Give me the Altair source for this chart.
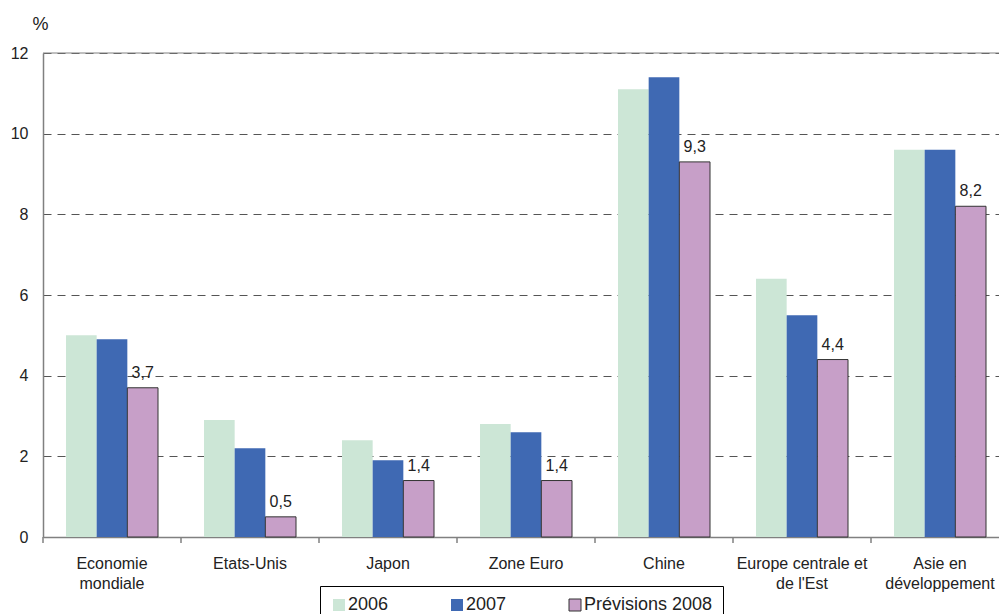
import altair as alt
import pandas as pd

# Growth rates (%) by region, with 2008 forecasts
categories = [
    "Economie|mondiale",
    "Etats-Unis",
    "Japon",
    "Zone Euro",
    "Chine",
    "Europe centrale et|de l'Est",
    "Asie en|développement",
]
series = ["2006", "2007", "Prévisions 2008"]
values_2006 = [5.0, 2.9, 2.4, 2.8, 11.1, 6.4, 9.6]
values_2007 = [4.9, 2.2, 1.9, 2.6, 11.4, 5.5, 9.6]
values_2008 = [3.7, 0.5, 1.4, 1.4, 9.3, 4.4, 8.2]
y_ticks = [0, 2, 4, 6, 8, 10, 12]

fill_colors = ["#CCE6D6", "#3F69B3", "#C79FC8"]
stroke_colors = ["transparent", "transparent", "#333333"]
FONT = "Liberation Sans"
TEXT = "#222222"
AXIS_GREY = "#808080"

rows = []
for s, vals in zip(series, [values_2006, values_2007, values_2008]):
    for c, v in zip(categories, vals):
        rows.append({"cat": c, "series": s, "value": v})
df = pd.DataFrame(rows)
tick_df = pd.DataFrame({"cat": categories})

x_scale = alt.Scale(domain=categories, range=[0, 966], paddingInner=0, paddingOuter=0)
xoff_scale = alt.Scale(domain=series, paddingInner=0, paddingOuter=0.75)
y_scale = alt.Scale(domain=[0, 12], nice=False)

legend = alt.Legend(
    title=None,
    orient="none",
    legendX=277,
    legendY=533,
    direction="horizontal",
    symbolType="square",
    symbolSize=144,
    symbolStrokeWidth=1,
    labelFontSize=18,
    labelFont=FONT,
    labelColor=TEXT,
    labelOffset=0,
    columnPadding=59,
    padding=10,
    strokeColor="black",
)

x_axis = alt.Axis(
    title=None,
    ticks=False,
    tickSize=0,
    labelAngle=0,
    labelPadding=18,
    labelFontSize=16,
    labelFont=FONT,
    labelColor=TEXT,
    labelBaseline="top",
    labelExpr="split(datum.label, '|')",
    labelLineHeight=20,
    labelOverlap=False,
    domainColor=AXIS_GREY,
    domainWidth=1.5,
)

y_axis = alt.Axis(
    values=y_ticks,
    format="d",
    ticks=False,
    tickSize=0,
    labelPadding=15,
    labelFontSize=16,
    labelFont=FONT,
    labelColor=TEXT,
    domainColor=AXIS_GREY,
    domainWidth=1.5,
    gridColor="#555555",
    gridDash=[8, 6],
    gridWidth=1,
    title="%",
    titleAngle=0,
    titleX=-3,
    titleY=-24,
    titleAlign="center",
    titleBaseline="alphabetic",
    titleFontSize=18,
    titleFont=FONT,
    titleFontWeight="normal",
    titleColor=TEXT,
)

bars = alt.Chart(df).mark_bar(strokeWidth=1).encode(
    x=alt.X("cat:N", sort=categories, scale=x_scale, axis=x_axis),
    xOffset=alt.XOffset("series:N", sort=series, scale=xoff_scale),
    y=alt.Y("value:Q", scale=y_scale, axis=y_axis),
    fill=alt.Fill("series:N", sort=series,
                  scale=alt.Scale(domain=series, range=fill_colors), legend=legend),
    stroke=alt.Stroke("series:N", sort=series,
                      scale=alt.Scale(domain=series, range=stroke_colors), legend=legend),
)

value_labels = (
    alt.Chart(df)
    .transform_filter(alt.datum.series == "Prévisions 2008")
    .transform_calculate(label="replace(format(datum.value, '.1f'), '.', ',')")
    .mark_text(dy=-10, baseline="alphabetic", fontSize=16, font=FONT, color=TEXT)
    .encode(
        x=alt.X("cat:N", sort=categories, scale=x_scale),
        xOffset=alt.XOffset("series:N", sort=series, scale=xoff_scale),
        y=alt.Y("value:Q", scale=y_scale),
        text="label:N",
    )
)

# tick marks between the category groups
cat_ticks = alt.Chart(tick_df).mark_rule(color=AXIS_GREY, strokeWidth=1.5).encode(
    x=alt.X("cat:N", sort=categories, scale=x_scale, bandPosition=0),
    y=alt.value(484),
    y2=alt.value(490),
)

# solid line closing the top of the plot area
top_line = alt.Chart(pd.DataFrame({"v": [12]})).mark_rule(color=AXIS_GREY, strokeWidth=1).encode(
    y=alt.Y("v:Q", scale=y_scale),
    x=alt.value(0),
    x2=alt.value(956),
)

chart = (
    alt.layer(bars, value_labels, cat_ticks, top_line)
    .properties(
        width=956,
        height=484,
        autosize=alt.AutoSizeParams(type="none"),
        padding={"left": 43, "top": 53, "right": 0, "bottom": 77},
        background="white",
    )
    .configure(font=FONT)
    .configure_view(stroke=None)
)

chart.save("out.html", embed_options={"renderer": "svg", "actions": False})
